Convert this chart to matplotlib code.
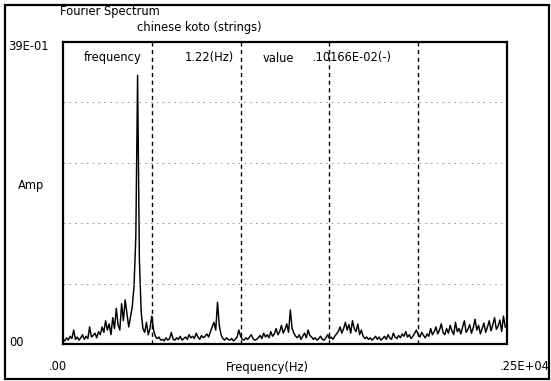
import numpy as np
import matplotlib.pyplot as plt
from matplotlib.patches import Rectangle

# amplitude spectrum, 10 Hz bins starting at 0 Hz
bin_hz = 10.0
amp = [
    0.06, 0.04, 0.08, 0.05, 0.10, 0.07, 0.18, 0.06, 0.09, 0.05,
    0.08, 0.12, 0.06, 0.10, 0.07, 0.22, 0.09, 0.11, 0.14, 0.08,
    0.16, 0.12, 0.22, 0.15, 0.30, 0.18, 0.26, 0.12, 0.34, 0.20,
    0.46, 0.25, 0.18, 0.52, 0.30, 0.57, 0.40, 0.22, 0.35, 0.48,
    0.75, 1.38, 3.47, 1.10, 0.42, 0.20, 0.15, 0.28, 0.12, 0.20,
    0.36, 0.18, 0.10, 0.07, 0.09, 0.05, 0.06, 0.04, 0.08, 0.05,
    0.07, 0.15, 0.06, 0.05, 0.08, 0.06, 0.10, 0.05, 0.07, 0.09,
    0.06, 0.12, 0.08, 0.10, 0.07, 0.14, 0.09, 0.06, 0.11, 0.08,
    0.10, 0.13, 0.09, 0.16, 0.22, 0.28, 0.18, 0.54, 0.24, 0.12,
    0.07, 0.05, 0.08, 0.06, 0.05, 0.07, 0.04, 0.06, 0.09, 0.18,
    0.10, 0.06, 0.05, 0.08, 0.06, 0.09, 0.12, 0.07, 0.05, 0.06,
    0.08, 0.11, 0.07, 0.14, 0.09, 0.12, 0.08, 0.16, 0.10, 0.13,
    0.20, 0.12, 0.16, 0.24, 0.14, 0.19, 0.26, 0.15, 0.44, 0.20,
    0.14, 0.10, 0.08, 0.12, 0.06, 0.10, 0.14, 0.08, 0.18, 0.11,
    0.09, 0.06, 0.08, 0.05, 0.07, 0.10, 0.06, 0.05, 0.08, 0.12,
    0.07, 0.09, 0.06, 0.10, 0.13, 0.16, 0.22, 0.14, 0.20, 0.28,
    0.18, 0.25, 0.14, 0.30, 0.20, 0.16, 0.26, 0.12, 0.18, 0.10,
    0.07, 0.09, 0.06, 0.08, 0.05, 0.07, 0.10, 0.06, 0.09, 0.05,
    0.07, 0.10, 0.06, 0.12, 0.08, 0.06, 0.14, 0.09, 0.07, 0.11,
    0.08, 0.13, 0.10, 0.16, 0.09, 0.12, 0.07, 0.10, 0.14, 0.18,
    0.12, 0.09, 0.15, 0.11, 0.08, 0.13, 0.10, 0.20, 0.12, 0.16,
    0.22, 0.13, 0.18, 0.26, 0.15, 0.12, 0.20, 0.14, 0.24, 0.17,
    0.12, 0.28, 0.16, 0.20, 0.13, 0.22, 0.30, 0.15, 0.19, 0.25,
    0.14, 0.21, 0.32, 0.18, 0.24, 0.13, 0.20, 0.27, 0.15, 0.22,
    0.30, 0.17, 0.25, 0.34, 0.19, 0.23, 0.31, 0.16, 0.36, 0.22,
]
freq = np.arange(len(amp)) * bin_hz

x_max = 2500
y_max = 3.9
v_grid = [500, 1000, 1500, 2000]
h_grid = [0.78, 1.56, 2.34, 3.12]

W, H = 551, 381
fig = plt.figure(figsize=(W / 100, H / 100), dpi=100)
fig.patch.set_facecolor("white")

def px(x, y):
    return x / W, 1 - y / H

ax = fig.add_axes([63 / W, 1 - 344 / H, 444 / W, 302 / H])
ax.plot(freq, amp, color="black", lw=1.05)
ax.set_xlim(0, x_max)
ax.set_ylim(0, y_max)

for v in v_grid:
    ax.axvline(v, color="black", lw=1.0, ls=(0, (3, 2.5)))
for h in h_grid:
    ax.axhline(h, color="#888888", lw=0.6, ls=(0, (2, 5)))

ax.set_xticks([])
ax.set_yticks([])
for s in ax.spines.values():
    s.set_linewidth(1.6)

# outer frame
fig.patches.append(Rectangle(px(5, 379), 544 / W, 374 / H, transform=fig.transFigure,
                             fill=False, edgecolor="black", lw=1.6))

fs = 8.3
def label(x, y, s, size=fs):
    fx, fy = px(x, y)
    fig.text(fx, fy, s, fontsize=size, va="center", ha="left", color="black")

label(60, 12, "Fourier Spectrum")
label(137, 27, "chinese koto (strings)")
label(8, 46, "39E-01")
label(18, 186, "Amp")
label(9, 343, "00")
label(49, 367, ".00")
label(226, 367, "Frequency(Hz)")
label(500, 367, ".25E+04")
label(84, 58, "frequency")
label(185, 58, "1.22(Hz)")
label(263, 58, "value")
label(313, 58, ".10166E-02(-)")

fig.savefig("out.png", dpi=100)
